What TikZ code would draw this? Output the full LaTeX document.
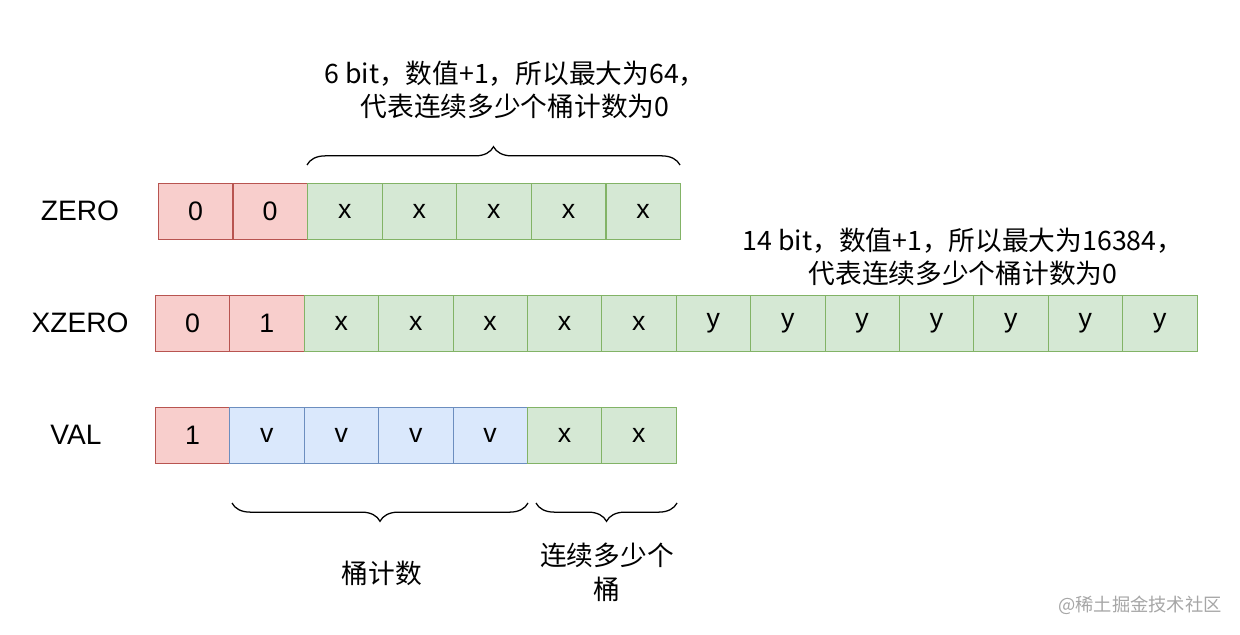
\documentclass[tikz,border=0pt]{standalone}
\usepackage{fontspec}
\setmainfont{Liberation Sans}
\newfontfamily\cjk{Noto Sans CJK SC}
\usetikzlibrary{decorations.pathreplacing,positioning}
\tikzset{
  cell/.style={draw, minimum width=1.86cm, minimum height=1.4cm, anchor=north west, inner sep=0pt, font=\fontsize{19}{22}\selectfont},
  redcell/.style={cell, fill={rgb,255:red,248;green,206;blue,204}, draw={rgb,255:red,184;green,84;blue,80}},
  greencell/.style={cell, fill={rgb,255:red,213;green,232;blue,212}, draw={rgb,255:red,130;green,179;blue,102}},
  bluecell/.style={cell, fill={rgb,255:red,218;green,232;blue,252}, draw={rgb,255:red,108;green,142;blue,191}},
  rowlabel/.style={font=\fontsize{20}{22}\selectfont},
  note/.style={font=\cjk\fontsize{19}{24}\selectfont, align=center},
  brace/.style={decorate, decoration={brace, amplitude=13pt}, line width=0.9pt}
}
\begin{document}
\begin{tikzpicture}[x=0.025cm, y=-0.025cm]
  \useasboundingbox (0,0) rectangle (1240,635);

  % ZERO row
  \node[rowlabel] (lzero) at (80,211) {ZERO};
  \node[redcell] (z1) at (158,183) {0};
  \node[redcell] (z2) at (232.6,183) {0};
  \foreach \i in {3,...,7}
    \node[greencell] (z\i) at ({158+(\i-1)*74.6},183) {x};

  % XZERO row
  \node[rowlabel] (lxzero) at (80,323) {XZERO};
  \node[redcell] (x1) at (155,295) {0};
  \node[redcell] (x2) at (229.4,295) {1};
  \foreach \i in {3,...,7}
    \node[greencell] (x\i) at ({155+(\i-1)*74.4},295) {x};
  \foreach \i in {8,...,14}
    \node[greencell] (x\i) at ({155+(\i-1)*74.4},295) {y};

  % VAL row
  \node[rowlabel] (lval) at (76,435) {VAL};
  \node[redcell] (v1) at (155,407) {1};
  \foreach \i in {2,...,5}
    \node[bluecell] (v\i) at ({155+(\i-1)*74.4},407) {v};
  \foreach \i in {6,7}
    \node[greencell] (v\i) at ({155+(\i-1)*74.4},407) {x};

  % braces and notes
  \draw[brace] (307,165) -- (680,165) coordinate[midway] (btop);
  \node[note] (ntop) at (515,90) {6 bit，数值+1，所以最大为64，\\代表连续多少个桶计数为0};
  \node[note] (nright) at (963,257) {14 bit，数值+1，所以最大为16384，\\代表连续多少个桶计数为0};
  \draw[brace] (528,503) -- (232,503) coordinate[midway] (bcount);
  \draw[brace] (677,503) -- (536,503) coordinate[midway] (brun);
  \node[note] (ncount) at (382,573) {桶计数};
  \node[note] (nrun) at (607,572) {连续多少个\\桶};

  \node[font=\cjk\fontsize{13}{15}\selectfont, text=black!35] (mark) at (1140,605) {@稀土掘金技术社区};
\end{tikzpicture}
\end{document}
